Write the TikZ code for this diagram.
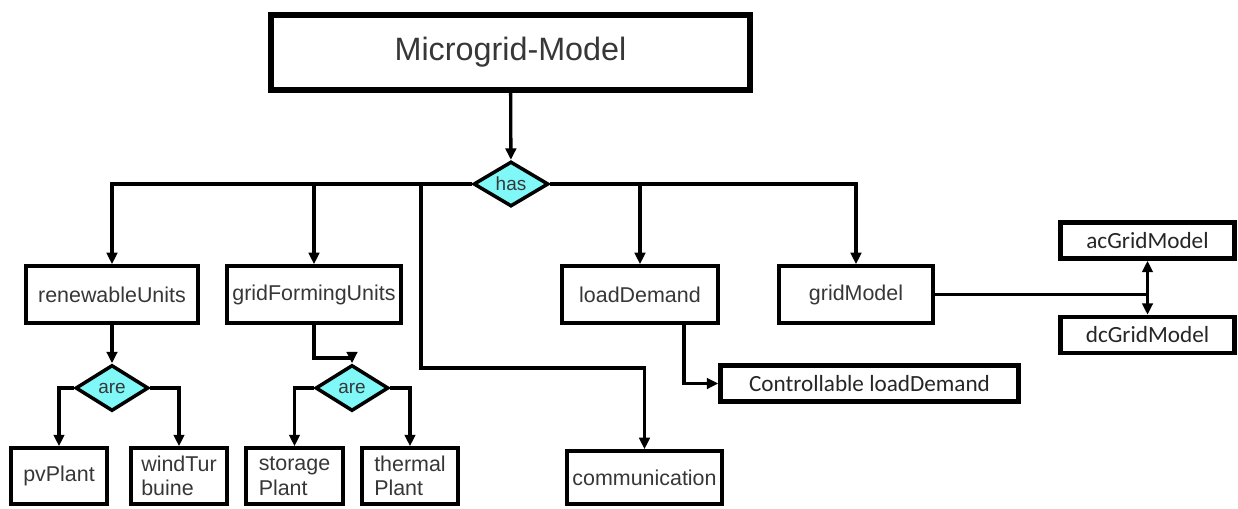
\documentclass[tikz,border=0pt]{standalone}
\usepackage{fontspec}
\setmainfont{Liberation Sans}
\newfontfamily\calfont{Carlito}
\usepackage{xcolor}
\usetikzlibrary{arrows.meta,shapes.geometric}
\definecolor{txtgray}{RGB}{55,55,55}
\definecolor{hascyan}{RGB}{128,248,248}

\begin{document}
\begin{tikzpicture}[
    x=0.02cm, y=-0.02cm,
    box/.style={draw, line width=2.1pt, inner sep=0pt, align=left, text=txtgray,
        font=\fontsize{12.2}{14}\selectfont, minimum height=1.14cm},
    cbox/.style={draw, line width=2.6pt, inner sep=0pt, text=black!85,
        font=\calfont\fontsize{13.2}{15}\selectfont, minimum height=0.72cm},
    dia/.style={diamond, draw, line width=2pt, fill=hascyan, inner sep=0pt,
        text=txtgray, font=\fontsize{10.8}{12}\selectfont},
    line/.style={draw, line width=1.9pt},
    msg/.style={-{Triangle[length=6.5pt,width=6pt]}, line width=1.9pt}
]
    \fill[white] (0,0) rectangle (1238,508);
    \useasboundingbox (0,0) rectangle (1238,508);

    % Top model
    \node[draw, line width=3.4pt, inner sep=0pt, minimum width=9.58cm, minimum height=1.5cm,
        text=txtgray, font=\fontsize{18.4}{20}\selectfont] (MG) at (510.5,52.5) {Microgrid-Model};
    \node[dia, minimum width=1.5cm, minimum height=0.9cm] (has) at (511,184) {has};

    % First level
    \node[box, minimum width=3.44cm] (RU) at (112,294.5) {renewableUnits};
    \node[box, minimum width=3.48cm] (GF) at (314,294.5) {gridFormingUnits};
    \node[box, minimum width=3.12cm] (LD) at (640,294.5) {loadDemand};
    \node[box, minimum width=3.08cm] (GM) at (856,294.5) {gridModel};
    \node[box, minimum width=3.1cm, minimum height=1.06cm] (CM) at (644.5,477.5) {communication};

    % Unit kinds
    \node[dia, minimum width=1.46cm, minimum height=0.92cm] (are1) at (112,388) {are};
    \node[dia, minimum width=1.46cm, minimum height=0.92cm] (are2) at (352,388) {are};
    \node[box, minimum width=1.92cm, minimum height=1.12cm] (PV) at (59,476) {pvPlant};
    \node[box, minimum width=1.92cm, minimum height=1.12cm] (WT) at (179,476) {windTur\\buine};
    \node[box, minimum width=1.94cm, minimum height=1.12cm] (SP) at (294.5,476) {storage\\Plant};
    \node[box, minimum width=1.92cm, minimum height=1.12cm] (TP) at (410,476) {thermal\\Plant};

    % Side models
    \node[cbox, minimum width=5.96cm] (CL) at (869.5,383.5) {Controllable loadDemand};
    \node[cbox, minimum width=3.48cm] (AC) at (1147.5,240.5) {acGridModel};
    \node[cbox, minimum width=3.48cm] (DC) at (1147.5,335) {dcGridModel};

    % Connectors
    \draw[msg] (MG) -- (has);
    \draw[msg] (has.west) -| (RU.north);
    \draw[msg] (has.west) -| (GF.north);
    \draw[msg] (has.east) -| (LD.north);
    \draw[msg] (has.east) -| (GM.north);
    \coordinate (c1) at (421,184);
    \coordinate (c2) at (421,368);
    \draw[msg] (c1) -- (c2) -| (CM.north);

    \draw[msg] (RU) -- (are1);
    \draw[msg] (GF.south) -- ++(0,33) -| (are2.north);
    \draw[msg] (are1.west) -| (PV.north);
    \draw[msg] (are1.east) -| (WT.north);
    \draw[msg] (are2.west) -| (SP.north);
    \draw[msg] (are2.east) -| (TP.north);

    \draw[msg] ([xshift=0.88cm]LD.south) |- (CL.west);
    \coordinate (j) at (AC.south |- GM.east);
    \draw[line, line width=1.4pt] (GM.east) -- (j);
    \draw[msg] (j) -- (AC.south);
    \draw[msg] (j) -- (DC.north);
\end{tikzpicture}
\end{document}
